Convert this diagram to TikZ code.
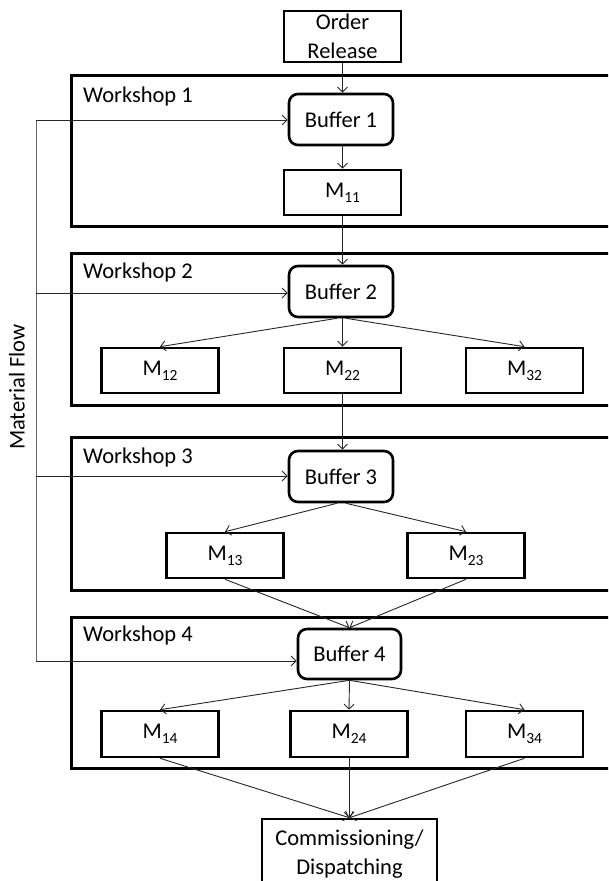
\documentclass[tikz,border=0pt]{standalone}
\usepackage{fontspec}
\setmainfont{Carlito}
\usetikzlibrary{arrows.meta,calc}
\newcommand{\msub}[1]{\raisebox{-5pt}{\fontsize{15.5}{16}\selectfont #1}}
\begin{document}
\begin{tikzpicture}[x=1pt,y=-1pt,
  every node/.style={font=\fontsize{22.5}{29}\selectfont, inner sep=0pt},
  box/.style={draw, line width=2.6pt, minimum width=117pt, minimum height=45pt, align=center},
  buf/.style={draw, line width=2.6pt, rounded corners=9pt, minimum width=104pt, minimum height=51pt},
  frame/.style={draw, line width=3pt},
  conn/.style={line width=0.9pt, draw=black!85, -{Straight Barb[length=5pt,width=10pt]}},
  flow/.style={line width=0.9pt, draw=black!60},
  wlabel/.style={anchor=west}
]
\useasboundingbox (0,0) rectangle (608,881);
\clip (0,0) rectangle (608,881);

% workshop frames
\draw[frame] (71,75) rectangle (630,226);
\draw[frame] (71,253) rectangle (630,405);
\draw[frame] (71,437) rectangle (630,590);
\draw[frame] (71,617) rectangle (630,768);

\node[wlabel] (w1) at (83,96) {Workshop 1};
\node[wlabel] (w2) at (83,272) {Workshop 2};
\node[wlabel] (w3) at (83,457) {Workshop 3};
\node[wlabel] (w4) at (83,635) {Workshop 4};

% nodes
\node[box, minimum height=51pt] (or) at (342.5,36.5) {Order\\Release};
\node[buf] (b1) at (341,119.5) {Buffer 1};
\node[box] (m11) at (342.5,192.5) {M\msub{11}};

\node[buf] (b2) at (341,291.5) {Buffer 2};
\node[box] (m12) at (160,370.5) {M\msub{12}};
\node[box] (m22) at (342.5,370.5) {M\msub{22}};
\node[box] (m32) at (524.5,370.5) {M\msub{32}};

\node[buf] (b3) at (341,476.5) {Buffer 3};
\node[box] (m13) at (225,555.5) {M\msub{13}};
\node[box] (m23) at (466,555.5) {M\msub{23}};

\node[buf, minimum width=103pt, minimum height=50pt] (b4) at (349.5,654) {Buffer 4};
\node[box, minimum height=46pt] (m14) at (160,734) {M\msub{14}};
\node[box, minimum height=46pt] (m24) at (349,734) {M\msub{24}};
\node[box, minimum height=46pt] (m34) at (524.5,734) {M\msub{34}};

\node[box, minimum width=175pt, minimum height=71pt] (cd) at (349.5,854.5) {Commissioning/\\Dispatching};

\node[rotate=90] (mf) at (17,387) {Material Flow};

% connectors
\draw[conn] (or.south) -- (or.south |- b1.north);
\draw[conn] (b1.south -| or.south) -- (m11.north);
\draw[conn] (m11.south) -- (m11.south |- b2.north);
\draw[conn] ($(b2.south)+(-4,0)$) -- (m12.north);
\draw[conn] (b2.south -| m22.north) -- (m22.north);
\draw[conn] ($(b2.south)+(5,0)$) -- (m32.north);
\draw[conn] (m22.south) -- (m22.south |- b3.north);
\draw[conn] ($(b3.south)+(-4,0)$) -- (m13.north);
\draw[conn] ($(b3.south)+(5,0)$) -- (m23.north);
\draw[conn] (m13.south) -- (b4.north);
\draw[conn] (m23.south) -- (b4.north);
\draw[conn] (b4.south) -- (m14.north);
\draw[conn] (b4.south) -- (m24.north);
\draw[conn] (b4.south) -- (m34.north);
\draw[conn] (m14.south) -- (cd.north);
\draw[conn] (m24.south) -- (m24.south |- cd.north);
\draw[conn] (m34.south) -- (cd.north);

% material flow
\coordinate (f1) at (36,120);
\coordinate (f2) at (36,293);
\coordinate (f3) at (36,476);
\coordinate (f4) at (36,661);
\draw[flow] (f1) -- (f4);
\draw[conn] (f1) -- (f1 -| b1.west);
\draw[conn] (f2) -- (f2 -| b2.west);
\draw[conn] (f3) -- (f3 -| b3.west);
\draw[conn] (f4) -- (f4 -| b4.west);
\end{tikzpicture}
\end{document}
